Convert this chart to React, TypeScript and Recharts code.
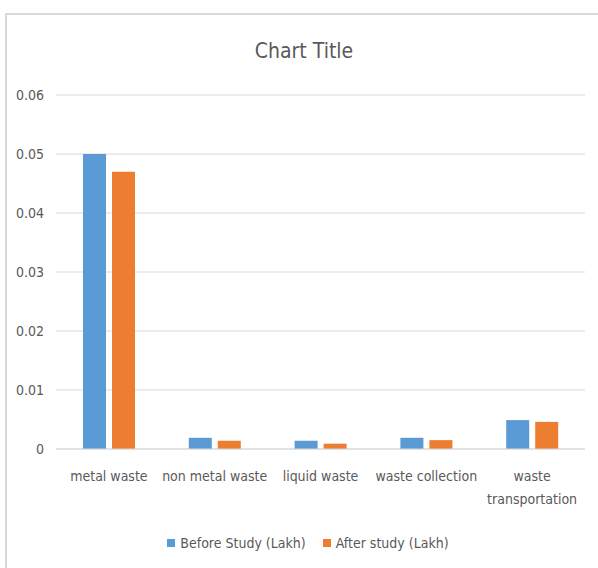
import { BarChart, Bar, XAxis, YAxis, CartesianGrid, Legend } from 'recharts';

const categories = ['metal waste', 'non metal waste', 'liquid waste', 'waste collection', 'waste transportation'];
const beforeStudy = [0.05, 0.0019, 0.0014, 0.0019, 0.0049];
const afterStudy = [0.047, 0.0014, 0.0009, 0.0015, 0.0046];
const yTicks = [0, 0.01, 0.02, 0.03, 0.04, 0.05, 0.06];

const series = [
  { key: 'before', name: 'Before Study (Lakh)', color: '#5B9BD5' },
  { key: 'after', name: 'After study (Lakh)', color: '#ED7D31' },
];

const data = categories.map((category, i) => ({
  category,
  before: beforeStudy[i],
  after: afterStudy[i],
}));

const FONT = '"DejaVu Sans Condensed", "Noto Sans", sans-serif';
const TEXT_COLOR = '#595959';
const MAX_LINE_CHARS = 16;

// greedy word wrap for long category names
function wrapLabel(label: string) {
  const lines: string[] = [];
  let current = '';
  for (const word of label.split(' ')) {
    const next = current ? current + ' ' + word : word;
    if (next.length > MAX_LINE_CHARS && current) {
      lines.push(current);
      current = word;
    } else {
      current = next;
    }
  }
  if (current) lines.push(current);
  return lines;
}

function CategoryTick({ x, y, payload }: any) {
  const lines = wrapLabel(String(payload.value));
  return (
    <text x={x} y={y} textAnchor="middle" fill={TEXT_COLOR} style={{ fontFamily: FONT, fontSize: 14 }}>
      {lines.map((line, i) => (
        <tspan key={i} x={x} dy={i === 0 ? 14 : 23}>
          {line}
        </tspan>
      ))}
    </text>
  );
}

function LegendContent() {
  return (
    <div style={{ display: 'flex', justifyContent: 'center', gap: 17, fontFamily: FONT, fontSize: 14, color: TEXT_COLOR, lineHeight: '20px' }}>
      {series.map((s) => (
        <div key={s.key} style={{ display: 'flex', alignItems: 'center', gap: 5 }}>
          <span style={{ width: 8, height: 8, background: s.color, display: 'inline-block' }} />
          <span>{s.name}</span>
        </div>
      ))}
    </div>
  );
}

export default function App() {
  return (
    <div style={{ position: 'absolute', left: 0, top: 0, width: 598, height: 568, background: '#fff' }}>
      {/* chart frame: only top and left edges fall inside the page */}
      <div style={{ position: 'absolute', left: 5, top: 13, right: -2, bottom: -2, border: '2px solid #d9d9d9' }} />
      <div style={{ position: 'absolute', left: 0, width: 608, top: 39, textAlign: 'center', fontFamily: FONT, fontSize: 21, color: TEXT_COLOR }}>
        Chart Title
      </div>
      <BarChart
        width={598}
        height={568}
        data={data}
        margin={{ top: 95, right: 13, left: 0, bottom: 43 }}
        barSize={23}
        barGap={6}
        style={{ position: 'absolute', left: 0, top: 0 }}
      >
        <CartesianGrid vertical={false} stroke="#d9d9d9" strokeWidth={1} />
        <XAxis
          dataKey="category"
          interval={0}
          height={56}
          axisLine={{ stroke: '#d9d9d9' }}
          tickLine={false}
          tickSize={0}
          tickMargin={18}
          tick={<CategoryTick />}
        />
        <YAxis
          domain={[0, 0.06]}
          ticks={yTicks}
          width={56}
          axisLine={false}
          tickLine={false}
          tickSize={0}
          tickMargin={12}
          tick={{ fill: TEXT_COLOR, fontSize: 14, fontFamily: FONT }}
        />
        <Legend
          content={<LegendContent />}
          wrapperStyle={{ top: 533, left: 9, width: 598, height: 20 }}
        />
        {series.map((s) => (
          <Bar key={s.key} dataKey={s.key} name={s.name} fill={s.color} isAnimationActive={false} />
        ))}
      </BarChart>
    </div>
  );
}
